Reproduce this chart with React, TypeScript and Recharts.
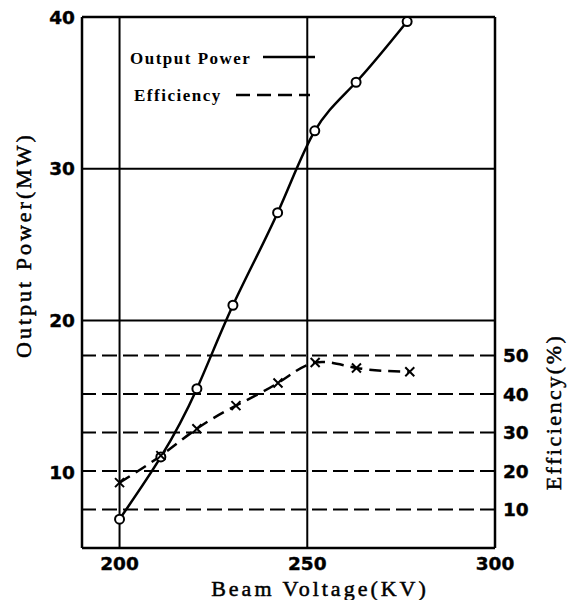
import React from 'react';
import { LineChart, Line, XAxis, YAxis, ReferenceLine, Customized } from 'recharts';

// Output power (MW) vs beam voltage (kV)
const voltagePower = [200, 211, 220.6, 230.2, 242.1, 252, 263, 276.6];
const outputPower = [6.9, 11.0, 15.5, 21.0, 27.1, 32.5, 35.7, 39.7];
// Efficiency (%) vs beam voltage (kV)
const voltageEff = [200, 211, 220.6, 231, 242.2, 252.1, 263.1, 277.3];
const efficiency = [17.0, 24.0, 31.0, 37.0, 42.9, 48.2, 46.8, 45.8];

const xTicks = [200, 250, 300];
const powerTicks = [10, 20, 30, 40];
const effTicks = [10, 20, 30, 40, 50];
const voltageGrid = [200, 250];
const powerGrid = [20, 30];

const powerData = voltagePower.map((x, i) => ({ x, power: outputPower[i] }));
const effData = voltageEff.map((x, i) => ({ x, eff: efficiency[i] }));

const serif = 'Liberation Serif';

const makeTick = (anchor: 'start' | 'middle' | 'end', baseline: string) => (props: any) => {
  const { x, y, payload } = props;
  return (
    <text
      x={x}
      y={y}
      textAnchor={anchor}
      dominantBaseline={baseline}
      style={{ fontFamily: 'DejaVu Sans', fontWeight: 700, fontSize: 18.5 }}
      fill="#000"
      stroke="#000"
      strokeWidth={0.4}
    >
      {payload.value}
    </text>
  );
};

const BottomTick = makeTick('middle', 'hanging');
const LeftTick = makeTick('end', 'central');
const RightTick = makeTick('start', 'central');

const CrossDot = (props: any) => {
  const { cx, cy, index } = props;
  if (cx == null || cy == null) return null;
  const s = 4.5;
  return (
    <path
      key={`cross-${index}`}
      d={`M${cx - s},${cy - s}L${cx + s},${cy + s}M${cx - s},${cy + s}L${cx + s},${cy - s}`}
      stroke="#000"
      strokeWidth={2}
      strokeDasharray="none"
      fill="none"
    />
  );
};

const titleProps = { fontFamily: serif, fontSize: 22, fill: '#000', stroke: '#000', strokeWidth: 0.5 };
const legendProps = { fontFamily: serif, fontWeight: 'bold' as const, fontSize: 17, letterSpacing: 1.5, fill: '#000' };

const Overlay = () => (
  <g>
    <text x={130} y={58} dominantBaseline="central" {...legendProps}>Output Power</text>
    <line x1={263} y1={57} x2={315} y2={57} stroke="#000" strokeWidth={2.5} />
    <text x={134} y={95} dominantBaseline="central" {...legendProps}>Efficiency</text>
    <line x1={236} y1={95} x2={310} y2={95} stroke="#000" strokeWidth={2.5} strokeDasharray="14 7" />
    <text x={23} y={245} transform="rotate(-90 23 245)" textAnchor="middle" dominantBaseline="central" letterSpacing={3} {...titleProps}>Output  Power(MW)</text>
    <text x={320} y={588} textAnchor="middle" dominantBaseline="central" letterSpacing={3} {...titleProps}>Beam  Voltage(KV)</text>
    <text x={553} y={412} transform="rotate(-90 553 412)" textAnchor="middle" dominantBaseline="central" letterSpacing={2.5} {...titleProps}>Efficiency(%)</text>
  </g>
);

export default function App() {
  return (
    <div style={{ position: 'absolute', left: 0, top: 0, background: '#fff' }}>
      <LineChart width={568} height={600} margin={{ top: 17, right: 0, bottom: 0, left: 0 }}>
        <XAxis
          dataKey="x"
          type="number"
          domain={[190, 300]}
          ticks={xTicks}
          allowDataOverflow
          height={52}
          axisLine={{ stroke: '#000', strokeWidth: 2.5 }}
          tickLine={false}
          tickSize={4}
          tickMargin={4}
          tick={<BottomTick />}
        />
        <YAxis
          yAxisId="left"
          orientation="left"
          type="number"
          domain={[5, 40]}
          ticks={powerTicks}
          allowDataOverflow
          width={82}
          axisLine={{ stroke: '#000', strokeWidth: 2.5 }}
          tickLine={false}
          tickSize={4}
          tickMargin={3}
          tick={<LeftTick />}
        />
        <YAxis
          yAxisId="right"
          orientation="right"
          type="number"
          domain={[0, 138]}
          ticks={effTicks}
          allowDataOverflow
          width={73}
          axisLine={{ stroke: '#000', strokeWidth: 2.5 }}
          tickLine={false}
          tickSize={4}
          tickMargin={4}
          tick={<RightTick />}
        />
        {voltageGrid.map((v) => (
          <ReferenceLine key={`vx-${v}`} x={v} yAxisId="left" stroke="#000" strokeWidth={2} />
        ))}
        {powerGrid.map((v) => (
          <ReferenceLine key={`py-${v}`} y={v} yAxisId="left" stroke="#000" strokeWidth={2} />
        ))}
        <ReferenceLine y={40} yAxisId="left" stroke="#000" strokeWidth={2.5} />
        {effTicks.map((v) => (
          <ReferenceLine key={`ey-${v}`} y={v} yAxisId="right" stroke="#000" strokeWidth={2} strokeDasharray="15 6" />
        ))}
        <Line
          yAxisId="left"
          data={powerData}
          dataKey="power"
          type="natural"
          stroke="#000"
          strokeWidth={2.5}
          dot={{ r: 4.5, stroke: '#000', strokeWidth: 2, fill: '#fff' }}
          isAnimationActive={false}
        />
        <Line
          yAxisId="right"
          data={effData}
          dataKey="eff"
          type="natural"
          stroke="#000"
          strokeWidth={2.5}
          strokeDasharray="12 7"
          dot={<CrossDot />}
          isAnimationActive={false}
        />
        <Customized component={Overlay} />
      </LineChart>
    </div>
  );
}
